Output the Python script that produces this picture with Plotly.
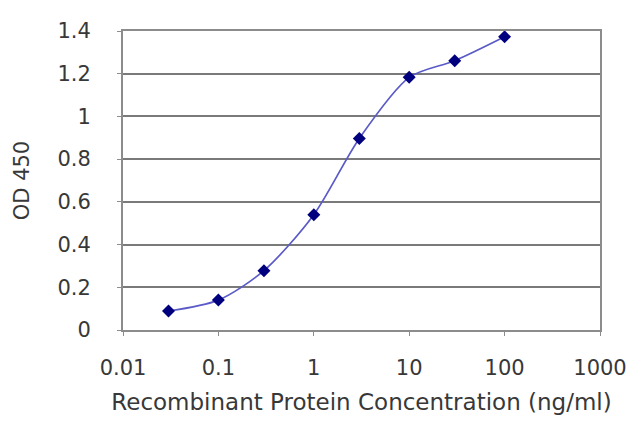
import plotly.graph_objects as go

conc = [0.03, 0.1, 0.3, 1, 3, 10, 30, 100]
od450 = [0.089, 0.14, 0.278, 0.54, 0.897, 1.183, 1.261, 1.373]

x_tickvals = [0.01, 0.1, 1, 10, 100, 1000]
x_ticktext = ["0.01", "0.1", "1", "10", "100", "1000"]
y_tickvals = [0, 0.2, 0.4, 0.6, 0.8, 1, 1.2, 1.4]

fig = go.Figure()

fig.add_trace(
    go.Scatter(
        x=conc,
        y=od450,
        mode="lines+markers",
        line=dict(color="#5a5ac8", width=1.7, shape="spline", smoothing=0.8),
        marker=dict(symbol="diamond", color="#00007f", size=10),
    )
)

fig.update_layout(
    width=640,
    height=427,
    margin=dict(l=115, r=48, t=23, b=105),
    plot_bgcolor="white",
    paper_bgcolor="white",
    showlegend=False,
    font=dict(family="DejaVu Sans", color="#383838", size=21),
)

fig.update_xaxes(
    type="log",
    range=[-2, 3],
    tickvals=x_tickvals,
    ticktext=x_ticktext,
    showgrid=False,
    showline=True,
    linecolor="#8c8c8c",
    linewidth=2,
    mirror=True,
    ticks="outside",
    ticklen=4,
    tickcolor="#8c8c8c",
    ticklabelstandoff=14,
    title=dict(text="Recombinant Protein Concentration (ng/ml)", font=dict(size=23), standoff=15),
    zeroline=False,
)

fig.update_yaxes(
    range=[0, 1.4],
    tickvals=y_tickvals,
    showgrid=True,
    gridcolor="#7a7a7a",
    gridwidth=2,
    showline=True,
    linecolor="#8c8c8c",
    linewidth=2,
    mirror=True,
    ticks="outside",
    ticklen=4,
    tickcolor="#8c8c8c",
    ticklabelstandoff=22,
    title=dict(text="OD 450", font=dict(size=21), standoff=22),
    zeroline=False,
)

fig.write_html("out.html")
